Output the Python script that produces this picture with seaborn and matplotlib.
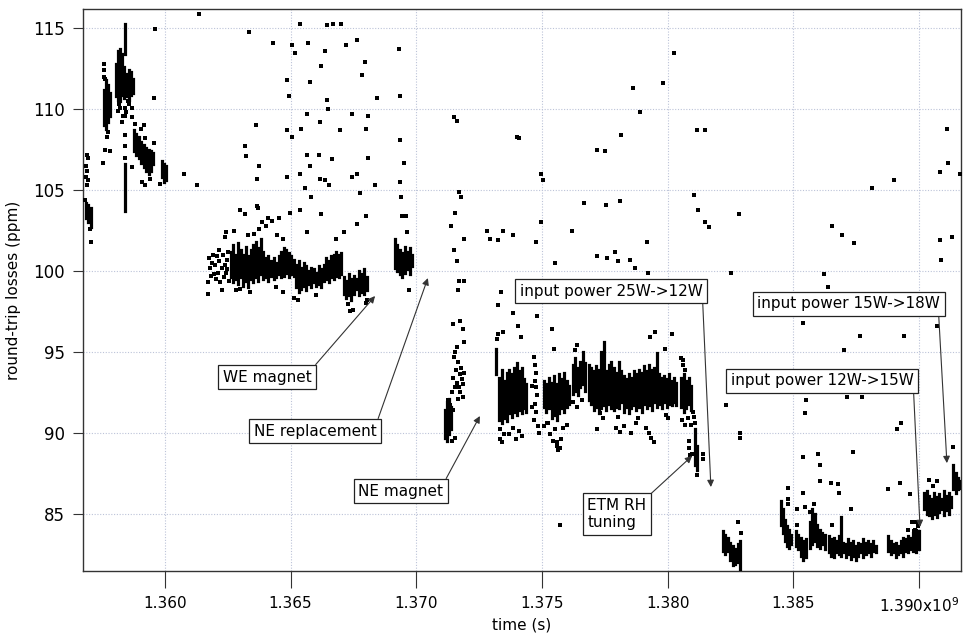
import pandas as pd
import seaborn as sns
import matplotlib.pyplot as plt

# time is in units of 1e9 s, losses in ppm
x_ticks = [1.360, 1.365, 1.370, 1.375, 1.380, 1.385, 1.390]
x_tick_labels = ["1.360", "1.365", "1.370", "1.375", "1.380", "1.385", "1.390x10$^{9}$"]
y_ticks = [85, 90, 95, 100, 105, 110, 115]

# dense stretches of the record: (time, lowest loss, highest loss) per column
band_a = [
    (1.35684, 103.3, 104.2), (1.35694, 103.0, 104.1), (1.35704, 102.7, 103.9),
    (1.35758, 109.0, 111.2), (1.35766, 108.8, 111.8), (1.35774, 109.2, 111.5), (1.35782, 109.6, 111.0),
    (1.35804, 110.8, 112.8), (1.35812, 110.6, 113.6), (1.35820, 110.5, 113.7), (1.35828, 110.9, 113.4),
    (1.35836, 110.7, 112.6), (1.35840, 113.4, 115.3), (1.35848, 110.8, 112.2), (1.35856, 110.6, 112.4),
    (1.35864, 110.9, 112.3), (1.35872, 111.0, 111.9),
    (1.35841, 103.7, 106.6),
    (1.35876, 107.4, 108.7), (1.35886, 107.2, 108.5), (1.35896, 107.0, 108.3), (1.35906, 106.7, 108.0),
    (1.35916, 106.4, 107.8), (1.35926, 106.2, 107.6), (1.35936, 106.0, 107.5), (1.35946, 106.2, 107.4),
    (1.35954, 106.6, 107.3),
    (1.35990, 105.8, 106.8), (1.35998, 105.5, 106.6), (1.36006, 105.6, 106.5),
]

band_b = [
    (1.36262, 99.6, 101.2), (1.36272, 99.3, 101.6), (1.36282, 99.5, 101.0), (1.36292, 99.2, 101.7),
    (1.36302, 99.6, 101.3), (1.36312, 99.1, 101.0), (1.36322, 99.4, 101.5), (1.36332, 99.0, 100.9),
    (1.36342, 99.5, 101.3), (1.36352, 99.3, 101.6), (1.36362, 99.6, 101.8), (1.36372, 99.4, 101.4),
    (1.36382, 99.8, 102.0), (1.36392, 99.5, 101.2), (1.36402, 99.6, 100.8), (1.36412, 99.4, 100.9),
    (1.36422, 99.7, 100.6), (1.36432, 99.5, 100.8), (1.36442, 99.6, 100.5), (1.36452, 99.8, 100.9),
    (1.36462, 99.6, 101.2), (1.36472, 99.7, 101.4), (1.36482, 99.9, 101.3), (1.36492, 99.6, 101.1),
    (1.36502, 99.8, 100.9), (1.36512, 99.7, 100.7), (1.36522, 99.0, 100.4), (1.36532, 98.7, 100.6),
    (1.36542, 98.9, 100.2), (1.36552, 99.1, 100.5), (1.36562, 98.8, 100.3), (1.36572, 99.2, 100.0),
    (1.36582, 99.0, 100.2), (1.36592, 99.3, 100.1), (1.36602, 99.1, 99.9), (1.36612, 99.2, 100.3),
    (1.36622, 99.0, 100.1), (1.36632, 99.4, 100.4), (1.36642, 99.5, 100.8), (1.36652, 99.3, 100.6),
    (1.36662, 99.6, 100.9), (1.36672, 99.5, 101.0), (1.36682, 99.7, 101.2), (1.36692, 99.6, 101.0),
    (1.36702, 99.8, 101.1), (1.36712, 98.6, 99.6), (1.36722, 98.3, 99.4), (1.36732, 98.5, 99.8),
    (1.36742, 98.2, 99.5), (1.36752, 98.6, 99.7), (1.36762, 98.9, 99.5), (1.36772, 98.5, 100.0),
    (1.36782, 98.7, 99.8), (1.36792, 98.6, 100.1), (1.36802, 98.8, 99.6),
]

band_c = [
    (1.36914, 100.2, 102.0), (1.36924, 100.0, 101.6), (1.36934, 99.8, 101.3), (1.36944, 99.6, 101.1),
    (1.36954, 99.9, 101.5), (1.36964, 100.1, 101.2), (1.36974, 99.8, 101.4), (1.36984, 100.3, 101.0),
]

band_d = [
    (1.37116, 89.7, 91.4), (1.37124, 89.5, 91.9), (1.37132, 89.9, 92.1), (1.37140, 90.2, 91.6),
]

band_e = [
    (1.37318, 93.6, 95.2), (1.37330, 90.8, 93.4), (1.37340, 90.6, 93.9), (1.37350, 90.9, 93.2),
    (1.37360, 90.7, 93.7), (1.37370, 91.2, 93.9), (1.37380, 91.0, 93.6), (1.37390, 91.3, 94.0),
    (1.37400, 91.1, 94.3), (1.37410, 91.4, 93.8), (1.37420, 91.2, 94.0), (1.37430, 91.5, 93.3),
    (1.37438, 91.3, 93.0),
    (1.37508, 91.6, 93.2), (1.37518, 91.3, 93.0), (1.37528, 91.5, 93.4), (1.37538, 90.9, 93.1),
    (1.37548, 91.1, 93.5), (1.37558, 90.8, 93.0), (1.37568, 91.2, 93.6), (1.37578, 91.5, 93.3),
    (1.37588, 91.3, 93.7), (1.37598, 91.6, 93.2), (1.37608, 91.8, 92.9),
    (1.37622, 92.4, 94.2), (1.37632, 92.6, 94.6), (1.37642, 92.3, 94.0), (1.37652, 92.8, 94.4),
    (1.37662, 93.0, 95.0), (1.37672, 92.6, 94.3),
    (1.37686, 92.0, 94.2), (1.37696, 91.8, 94.0), (1.37706, 91.4, 93.8), (1.37716, 91.6, 94.1),
    (1.37726, 91.2, 93.9), (1.37736, 91.5, 95.0), (1.37746, 91.7, 95.6), (1.37756, 91.4, 93.8),
    (1.37766, 91.8, 94.2), (1.37776, 91.5, 94.4), (1.37786, 91.4, 94.0), (1.37796, 91.6, 93.7),
    (1.37806, 91.5, 94.4), (1.37816, 91.9, 93.8), (1.37826, 91.3, 93.5), (1.37836, 91.6, 93.3),
    (1.37846, 91.2, 93.6), (1.37856, 91.5, 93.4), (1.37866, 91.7, 93.8), (1.37876, 91.4, 93.6),
    (1.37886, 91.6, 93.9), (1.37896, 91.3, 93.7), (1.37906, 91.8, 94.1), (1.37916, 91.5, 93.8),
    (1.37926, 91.7, 94.2), (1.37936, 91.4, 93.9), (1.37946, 91.9, 94.0), (1.37956, 91.6, 94.9),
    (1.37966, 91.8, 93.6), (1.37976, 91.5, 93.4), (1.37986, 91.9, 93.5), (1.37996, 91.6, 93.3),
    (1.38006, 91.8, 93.6), (1.38016, 91.7, 93.2), (1.38026, 91.9, 93.4), (1.38034, 91.7, 93.1),
    (1.38054, 91.6, 93.4), (1.38064, 91.3, 93.6), (1.38074, 91.5, 93.2), (1.38084, 91.8, 93.4),
    (1.38094, 91.4, 92.9),
    (1.38108, 88.0, 90.2), (1.38115, 87.7, 89.2),
]

band_f = [
    (1.38219, 82.7, 83.9), (1.38229, 82.5, 83.7), (1.38239, 82.7, 83.5), (1.38249, 82.1, 83.2),
    (1.38259, 81.8, 83.0), (1.38269, 81.9, 82.8), (1.38279, 82.0, 83.1), (1.38289, 81.5, 83.3),
]

band_g = [
    (1.38450, 84.3, 85.8), (1.38458, 83.8, 85.3), (1.38466, 83.3, 84.6), (1.38474, 83.0, 84.2),
    (1.38484, 82.9, 84.0), (1.38492, 83.1, 83.7),
    (1.38510, 83.0, 83.9), (1.38520, 82.8, 83.7), (1.38530, 82.4, 83.5), (1.38540, 82.1, 83.3),
    (1.38550, 82.3, 83.4),
    (1.38566, 82.9, 84.5), (1.38576, 83.1, 85.3), (1.38586, 83.3, 85.0), (1.38596, 83.0, 84.3),
    (1.38606, 82.9, 84.0), (1.38616, 83.1, 83.8), (1.38626, 82.8, 83.7),
    (1.38640, 82.6, 83.6), (1.38650, 82.4, 83.4), (1.38660, 82.3, 83.5), (1.38670, 82.6, 83.3),
    (1.38680, 82.5, 83.6), (1.38688, 82.4, 84.8), (1.38698, 82.6, 83.2), (1.38708, 82.3, 83.1),
    (1.38718, 82.5, 83.4), (1.38728, 82.2, 83.2), (1.38738, 82.4, 83.3), (1.38748, 82.1, 83.0),
    (1.38758, 82.4, 83.2), (1.38768, 82.6, 83.1), (1.38778, 82.3, 83.4), (1.38788, 82.5, 83.2),
    (1.38798, 82.6, 83.3), (1.38808, 82.4, 83.1), (1.38818, 82.7, 83.3), (1.38828, 82.6, 83.0),
    (1.38878, 82.7, 83.6), (1.38888, 82.5, 83.3), (1.38898, 82.6, 83.1), (1.38908, 82.3, 83.2),
    (1.38918, 82.5, 83.0), (1.38928, 82.6, 83.3), (1.38938, 82.4, 83.5), (1.38948, 82.7, 83.4),
    (1.38958, 82.6, 83.6), (1.38968, 82.8, 83.5), (1.38978, 82.7, 83.8), (1.38988, 82.6, 84.0),
    (1.38998, 82.8, 83.9),
]

band_h = [
    (1.39020, 85.3, 86.3), (1.39030, 85.0, 86.4), (1.39040, 84.9, 86.1), (1.39050, 84.7, 85.9),
    (1.39060, 85.0, 86.3), (1.39070, 84.8, 86.0), (1.39080, 85.1, 86.2), (1.39090, 85.3, 85.9),
    (1.39100, 84.9, 86.4), (1.39110, 85.2, 86.1), (1.39120, 85.0, 86.3), (1.39128, 85.4, 86.0),
    (1.39136, 86.5, 88.0), (1.39146, 86.3, 87.5), (1.39156, 86.5, 87.2), (1.39166, 86.6, 87.0),
]

# isolated readings: (time, loss)
stray_a = [
    (1.35688, 107.2), (1.35692, 107.0), (1.35686, 106.5), (1.35690, 106.2), (1.35684, 105.8),
    (1.35692, 105.6), (1.35688, 105.3), (1.35706, 101.8), (1.35682, 104.4), (1.35700, 102.6),
    (1.35756, 112.8), (1.35757, 112.4), (1.35758, 112.0), (1.35762, 111.9), (1.35770, 108.3),
    (1.35762, 107.5), (1.35754, 106.7), (1.35780, 107.4), (1.35772, 108.6),
    (1.35818, 110.3), (1.35822, 110.1), (1.35834, 109.6), (1.35846, 109.8), (1.35858, 110.3),
    (1.35870, 110.1), (1.35828, 109.2), (1.35870, 109.5), (1.35814, 109.9), (1.35852, 110.5),
    (1.35841, 110.1), (1.35841, 109.6), (1.35841, 108.4), (1.35841, 107.7), (1.35841, 107.0),
    (1.35880, 109.1), (1.35904, 108.8), (1.35916, 109.0), (1.35920, 108.2), (1.35955, 107.9),
    (1.35908, 105.5), (1.35940, 105.7), (1.35922, 105.3), (1.35868, 106.4), (1.35980, 105.4),
    (1.35960, 114.96), (1.35956, 110.7), (1.36076, 106.0), (1.36128, 105.3), (1.36136, 115.9),
]

stray_b = [
    (1.36172, 99.3), (1.36176, 100.8), (1.36180, 100.2), (1.36184, 99.7), (1.36188, 100.5),
    (1.36192, 101.0), (1.36196, 99.8), (1.36200, 100.4), (1.36204, 99.5), (1.36208, 100.9),
    (1.36212, 99.9), (1.36216, 100.6), (1.36220, 99.3), (1.36226, 100.2), (1.36230, 101.0),
    (1.36234, 99.6), (1.36238, 100.4), (1.36242, 99.9), (1.36248, 100.7), (1.36252, 101.2),
    (1.36256, 99.4), (1.36170, 98.6), (1.36228, 98.8), (1.36214, 101.3), (1.36246, 100.1),
    (1.36299, 103.8), (1.36318, 103.5), (1.36366, 104.0), (1.36386, 103.0), (1.36410, 103.3),
    (1.36426, 103.1), (1.36454, 103.3), (1.36497, 103.6), (1.36537, 103.8), (1.36557, 105.1),
    (1.36581, 104.6), (1.36621, 103.5), (1.36565, 102.4), (1.36712, 102.4), (1.36776, 104.8),
    (1.36800, 103.4), (1.36764, 102.9), (1.36637, 105.6), (1.36243, 102.4), (1.36239, 102.1),
    (1.36275, 102.5), (1.36374, 102.6), (1.36402, 102.8), (1.36446, 102.2), (1.36330, 102.2),
    (1.36356, 102.3), (1.36470, 102.0), (1.36680, 102.0),
    (1.36282, 98.8), (1.36300, 98.9), (1.36340, 98.7), (1.36470, 98.7), (1.36515, 98.3),
    (1.36530, 98.2), (1.36600, 98.5), (1.36730, 97.96), (1.36750, 97.6), (1.36736, 97.5),
    (1.36800, 98.0), (1.36805, 98.2), (1.36440, 99.0),
    (1.36334, 114.8), (1.36430, 114.1), (1.36318, 107.7), (1.36322, 107.1), (1.36374, 106.5),
    (1.36366, 105.7), (1.36362, 109.0), (1.36370, 103.9), (1.36486, 111.8), (1.36494, 110.8),
    (1.36537, 115.3), (1.36505, 114.0), (1.36517, 113.5), (1.36486, 108.7), (1.36505, 108.3),
    (1.36541, 108.8), (1.36486, 105.8), (1.36537, 106.0), (1.36569, 114.1), (1.36577, 111.7),
    (1.36565, 109.7), (1.36565, 107.2), (1.36577, 106.5), (1.36613, 107.2), (1.36617, 109.2),
    (1.36621, 112.7), (1.36645, 115.2), (1.36637, 113.6), (1.36617, 105.7), (1.36645, 110.6),
    (1.36649, 110.0),
    (1.36669, 115.3), (1.36701, 115.3), (1.36721, 114.0), (1.36764, 114.3), (1.36784, 112.1),
    (1.36744, 109.7), (1.36808, 109.6), (1.36844, 110.7), (1.36800, 108.8), (1.36697, 108.7),
    (1.36764, 106.0), (1.36744, 105.8), (1.36808, 107.0), (1.36665, 106.9), (1.36653, 105.3),
    (1.36836, 105.3), (1.36796, 112.9),
    (1.36935, 105.5), (1.36939, 104.6), (1.36943, 103.4), (1.36959, 103.4), (1.36963, 102.4),
    (1.36971, 98.8), (1.36931, 113.7), (1.36935, 110.8), (1.36935, 108.1), (1.36951, 106.7),
]

stray_d = [
    (1.37155, 95.0), (1.37151, 94.7), (1.37167, 94.4), (1.37159, 93.9), (1.37174, 93.6),
    (1.37147, 93.4), (1.37182, 93.3), (1.37163, 93.1), (1.37186, 93.0), (1.37155, 92.8),
    (1.37174, 92.5), (1.37143, 92.5), (1.37186, 92.2), (1.37127, 92.0), (1.37167, 92.1),
    (1.37135, 91.7), (1.37147, 91.4), (1.37155, 89.7), (1.37143, 89.5), (1.37178, 94.0),
    (1.37170, 92.8), (1.37160, 95.3), (1.37190, 93.7),
    (1.37147, 96.7), (1.37175, 96.9), (1.37186, 96.4), (1.37190, 95.6), (1.37151, 101.3),
    (1.37163, 100.6), (1.37190, 102.0), (1.37171, 99.4), (1.37190, 99.4), (1.37167, 98.8),
    (1.37150, 109.5), (1.37160, 109.3), (1.37170, 104.9), (1.37155, 103.6), (1.37140, 102.8),
    (1.37178, 104.6),
]

stray_e = [
    (1.37322, 95.8), (1.37326, 96.1), (1.37334, 90.2), (1.37332, 89.6), (1.37340, 89.4),
    (1.37370, 89.9), (1.37384, 90.3), (1.37396, 89.6), (1.37410, 90.1), (1.37420, 89.8),
    (1.37350, 89.9),
    (1.37470, 94.7), (1.37474, 94.2), (1.37478, 93.7), (1.37472, 93.2), (1.37476, 92.8),
    (1.37480, 92.3), (1.37474, 91.8), (1.37478, 91.3), (1.37470, 90.8), (1.37462, 92.9),
    (1.37460, 91.6), (1.37485, 90.4), (1.37488, 90.0),
    (1.37510, 90.4), (1.37520, 90.6), (1.37530, 89.9), (1.37545, 89.5), (1.37552, 90.2),
    (1.37560, 89.2), (1.37565, 88.9), (1.37575, 89.6), (1.37585, 90.3), (1.37600, 90.5),
    (1.37625, 91.9), (1.37640, 91.6), (1.37660, 92.0), (1.37630, 95.1),
    (1.37732, 91.2), (1.37744, 90.9), (1.37802, 91.0), (1.37794, 90.3), (1.37826, 90.4),
    (1.37854, 90.0), (1.37874, 90.6), (1.37882, 90.9), (1.37914, 90.3), (1.37926, 90.0),
    (1.37934, 89.7), (1.37946, 89.4), (1.37994, 91.1), (1.38002, 90.9), (1.37719, 90.2),
    (1.37810, 90.05), (1.37522, 90.6), (1.37561, 89.4), (1.37573, 89.05),
    (1.38052, 94.6), (1.38060, 94.2), (1.38068, 93.9), (1.38058, 90.8), (1.38070, 90.5),
    (1.38080, 90.9), (1.38094, 90.5), (1.38104, 91.0), (1.38108, 90.6), (1.38102, 91.3),
    (1.38118, 87.4), (1.38090, 88.6), (1.38095, 88.7), (1.38140, 88.7), (1.38140, 88.4),
    (1.38085, 89.5), (1.38085, 89.05), (1.38093, 90.5),
    (1.37325, 101.9), (1.37345, 102.5), (1.37385, 102.2), (1.37476, 101.8), (1.37552, 100.5),
    (1.37719, 100.9), (1.37758, 100.8), (1.37790, 101.2), (1.37802, 100.6), (1.37850, 100.7),
    (1.37870, 100.2), (1.37918, 101.8), (1.37922, 99.9), (1.37337, 98.7), (1.37325, 97.9),
    (1.37385, 97.4), (1.37405, 96.6), (1.37417, 95.9), (1.37345, 96.2), (1.37480, 97.2),
    (1.37540, 96.4), (1.37548, 95.2), (1.37639, 95.4), (1.37930, 95.9), (1.37950, 96.2),
    (1.38017, 96.1), (1.37989, 95.2), (1.38061, 94.5), (1.37571, 84.3),
    (1.37281, 102.5), (1.37293, 102.0), (1.37401, 108.3), (1.37409, 108.2), (1.37496, 106.0),
    (1.37504, 105.6), (1.37496, 103.0), (1.37619, 102.5), (1.37667, 104.2), (1.37719, 107.5),
    (1.37751, 107.4), (1.37754, 104.1), (1.37810, 104.3), (1.37814, 108.4), (1.37862, 111.3),
    (1.37890, 109.8), (1.37981, 111.6), (1.38025, 113.5), (1.38117, 108.7), (1.38148, 108.7),
    (1.38105, 104.7), (1.38121, 103.8), (1.38148, 103.0), (1.38164, 102.7),
]

stray_fg = [
    (1.38232, 91.7), (1.38252, 99.9), (1.38288, 90.0), (1.38288, 89.7), (1.38280, 84.5),
    (1.38284, 103.5), (1.38292, 83.8),
    (1.38478, 86.6), (1.38478, 85.9), (1.38478, 85.6), (1.38538, 86.3), (1.38514, 85.3),
    (1.38546, 85.4), (1.38566, 85.1), (1.38582, 85.6), (1.38606, 88.0), (1.38606, 87.0),
    (1.38650, 86.9), (1.38677, 86.8), (1.38681, 86.3), (1.38729, 85.3), (1.38876, 86.5),
    (1.38924, 86.9), (1.38964, 86.2), (1.38972, 84.5), (1.38956, 84.0), (1.38980, 83.9),
    (1.38514, 84.3), (1.38654, 84.3), (1.38538, 88.5), (1.38546, 91.2), (1.38550, 92.0),
    (1.38598, 88.7), (1.38713, 92.2), (1.38773, 92.2), (1.38737, 88.8), (1.38912, 90.2),
    (1.38928, 90.6), (1.38622, 99.8), (1.38638, 99.0), (1.38538, 96.8), (1.38701, 95.1),
    (1.38765, 96.0), (1.38940, 96.0), (1.38654, 102.8), (1.38693, 102.2), (1.38741, 101.7),
    (1.38813, 105.1), (1.38900, 105.6), (1.38984, 84.0), (1.38990, 84.5), (1.38995, 84.2),
]

stray_h = [
    (1.39071, 96.6), (1.39087, 100.7), (1.39083, 106.1), (1.39111, 108.8), (1.39115, 106.7),
    (1.39163, 106.0), (1.39083, 101.9), (1.39131, 102.1), (1.39135, 89.1), (1.39040, 87.1),
    (1.39070, 87.0), (1.39055, 86.7),
]

# annotation text, arrow tip (time, loss), box centre (time, loss), arrow start on box
notes = [
    ("WE magnet", (1.36836, 98.45), (1.36406, 93.44), (1.0, 1.0)),
    ("NE replacement", (1.37046, 99.56), (1.36597, 90.10), (1.0, 1.0)),
    ("NE magnet", (1.37253, 91.03), (1.36939, 86.39), (1.0, 1.0)),
    ("ETM RH\ntuning", (1.38097, 88.56), (1.37798, 84.97), (1.0, 1.0)),
    ("input power 25W->12W", (1.38172, 86.64), (1.37775, 98.76), (1.0, 0.0)),
    ("input power 15W->18W", (1.39111, 88.12), (1.38721, 97.96), (0.99, 0.0)),
    ("input power 12W->15W", (1.39004, 84.17), (1.38614, 93.20), (1.0, 0.0)),
]


def main():
    bands = pd.DataFrame(band_a + band_b + band_c + band_d + band_e + band_f + band_g + band_h,
                         columns=["time", "lo", "hi"])
    pts = pd.DataFrame(stray_a + stray_b + stray_d + stray_e + stray_fg + stray_h,
                       columns=["time", "loss"])

    sns.set_theme(style="white")
    plt.rcParams["font.family"] = ["DejaVu Sans"]
    plt.rcParams["text.color"] = "black"
    plt.rcParams["axes.labelcolor"] = "black"
    plt.rcParams["xtick.color"] = "black"
    plt.rcParams["ytick.color"] = "black"

    fig = plt.figure(figsize=(9.65, 6.33), dpi=100)
    ax = fig.add_axes([0.086, 0.098, 0.9101, 0.8878])

    ax.vlines(bands["time"], bands["lo"], bands["hi"], colors="black",
              linewidth=2.3, capstyle="projecting", zorder=3)
    sns.scatterplot(data=pts, x="time", y="loss", marker="s", s=6, color="black",
                    linewidth=0, ax=ax, zorder=3)

    ax.set_xlim(1.35674, 1.39168)
    ax.set_ylim(81.45, 116.2)
    ax.set_xticks(x_ticks)
    ax.set_xticklabels(x_tick_labels)
    ax.set_yticks(y_ticks)

    ax.grid(True, color="#bcc3d8", linestyle=(0, (1, 1.5)), linewidth=0.8)
    ax.set_axisbelow(True)
    for side in ax.spines.values():
        side.set_color("#333333")
        side.set_linewidth(1.0)
    ax.tick_params(axis="x", bottom=True, direction="out", length=12, width=0.8,
                   color="#333333", pad=6, labelsize=11)
    ax.tick_params(axis="y", left=True, direction="out", length=7, width=0.8,
                   color="#333333", pad=6, labelsize=12)

    ax.set_xlabel("time (s)", fontsize=11, labelpad=2)
    ax.set_ylabel("round-trip losses (ppm)", fontsize=11, labelpad=9)

    for text, tip, box, rel in notes:
        ax.annotate(text, xy=tip, xytext=box, ha="center", va="center", fontsize=11,
                    multialignment="left", zorder=5,
                    bbox=dict(boxstyle="square,pad=0.3", fc="white", ec="#222222", lw=0.9),
                    arrowprops=dict(arrowstyle="-|>", color="#333333", lw=0.8,
                                    mutation_scale=10, shrinkA=0, shrinkB=0, relpos=rel))

    plt.savefig("out.png", dpi=100)
    plt.close()


if __name__ == "__main__":
    main()
